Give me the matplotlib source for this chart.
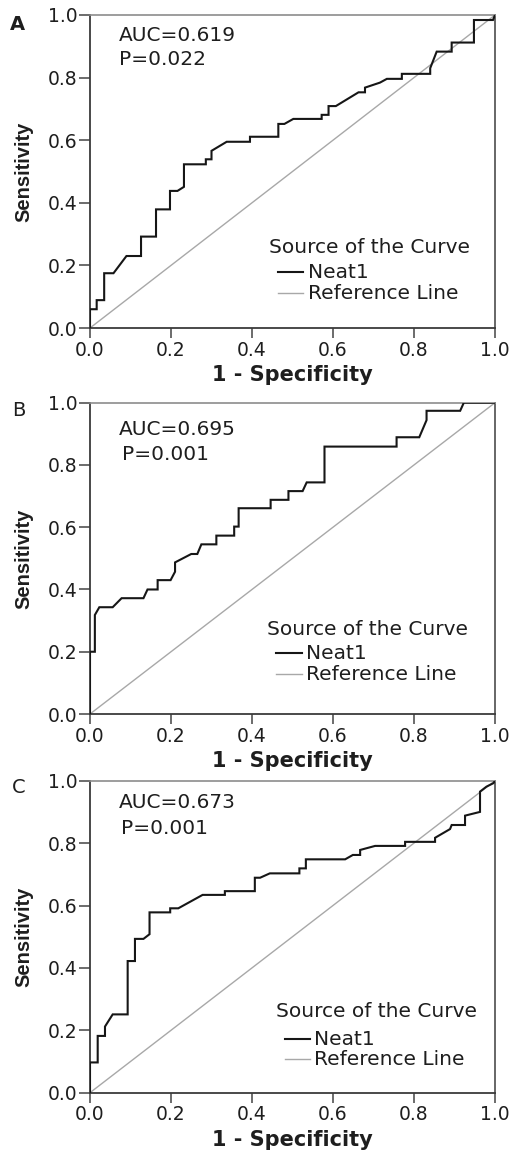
import matplotlib
matplotlib.use("Agg")
import matplotlib.pyplot as plt

# ---------------- data ----------------
panel_letters = ["A", "B", "C"]
auc_texts = ["AUC=0.619", "AUC=0.695", "AUC=0.673"]
p_texts = ["P=0.022", "P=0.001", "P=0.001"]
series_label = "Neat1"
ref_label = "Reference Line"
legend_title = "Source of the Curve"
xlabel = "1 - Specificity"
ylabel = "Sensitivity"
tick_values = [0.0, 0.2, 0.4, 0.6, 0.8, 1.0]
tick_labels = ["0.0", "0.2", "0.4", "0.6", "0.8", "1.0"]

# ROC curve vertices (1 - specificity, sensitivity)
fpr_a = [0, 0, 0.0165, 0.0165, 0.035, 0.035, 0.058, 0.09, 0.126, 0.126, 0.163, 0.163,
         0.1975, 0.1975, 0.216, 0.232, 0.232, 0.286, 0.286, 0.30, 0.30, 0.3375, 0.395,
         0.395, 0.465, 0.465, 0.48, 0.502, 0.572, 0.572, 0.589, 0.589, 0.607, 0.663,
         0.679, 0.679, 0.716, 0.733, 0.77, 0.77, 0.84, 0.84, 0.856, 0.893, 0.893, 0.948,
         0.948, 0.995, 1.0]
tpr_a = [0, 0.06, 0.06, 0.089, 0.089, 0.175, 0.175, 0.23, 0.23, 0.292, 0.292, 0.379,
         0.379, 0.438, 0.438, 0.451, 0.523, 0.523, 0.539, 0.539, 0.566, 0.595, 0.595,
         0.611, 0.611, 0.652, 0.652, 0.668, 0.668, 0.681, 0.681, 0.709, 0.709, 0.753,
         0.753, 0.768, 0.784, 0.796, 0.796, 0.812, 0.812, 0.83, 0.883, 0.883, 0.912,
         0.912, 0.984, 0.984, 1.0]

fpr_b = [0, 0, 0.012, 0.012, 0.023, 0.056, 0.078, 0.132, 0.142, 0.167, 0.167, 0.199,
         0.21, 0.21, 0.25, 0.265, 0.275, 0.312, 0.312, 0.356, 0.356, 0.367, 0.367,
         0.446, 0.446, 0.49, 0.49, 0.525, 0.535, 0.579, 0.579, 0.757, 0.757, 0.813,
         0.831, 0.831, 0.914, 0.923, 1.0]
tpr_b = [0, 0.2, 0.2, 0.318, 0.343, 0.343, 0.372, 0.372, 0.4, 0.4, 0.43, 0.43,
         0.457, 0.487, 0.514, 0.514, 0.545, 0.545, 0.573, 0.573, 0.602, 0.602, 0.661,
         0.661, 0.688, 0.688, 0.716, 0.716, 0.744, 0.744, 0.859, 0.859, 0.889, 0.889,
         0.944, 0.974, 0.974, 1.0, 1.0]

fpr_c = [0, 0, 0.019, 0.019, 0.037, 0.037, 0.056, 0.093, 0.093, 0.111, 0.111, 0.132,
         0.147, 0.147, 0.198, 0.198, 0.218, 0.278, 0.333, 0.333, 0.407, 0.407, 0.42,
         0.444, 0.517, 0.517, 0.533, 0.533, 0.63, 0.649, 0.667, 0.667, 0.704, 0.778,
         0.778, 0.852, 0.852, 0.889, 0.893, 0.926, 0.926, 0.963, 0.963, 0.979, 0.996, 1.0]
tpr_c = [0, 0.097, 0.097, 0.182, 0.182, 0.212, 0.251, 0.251, 0.422, 0.422, 0.493, 0.493,
         0.508, 0.578, 0.578, 0.591, 0.591, 0.634, 0.634, 0.646, 0.646, 0.689, 0.689,
         0.703, 0.703, 0.719, 0.719, 0.748, 0.748, 0.762, 0.762, 0.778, 0.791, 0.791,
         0.804, 0.804, 0.817, 0.845, 0.858, 0.858, 0.888, 0.9, 0.965, 0.981, 0.992, 1.0]

ref_x = [0.0, 1.0]
ref_y = [0.0, 1.0]

curves = [(fpr_a, tpr_a), (fpr_b, tpr_b), (fpr_c, tpr_c)]

# ---------------- layout ----------------
W, H = 512, 1156
axes_px = [(90, 15, 495, 328), (90, 402.7, 495, 714), (90, 780.7, 495, 1092.7)]
letter_px = [(10, 30), (12, 416), (12, 793)]
auc_pos = [((0.072, 0.917), (0.072, 0.840)),
           ((0.072, 0.896), (0.078, 0.816)),
           ((0.072, 0.912), (0.076, 0.829))]
# (title_x, title_y, handle_x0, handle_x1, text_x, base1, base2)
leg_pos = [(0.442, 0.240, 0.464, 0.526, 0.538, 0.159, 0.093),
           (0.436, 0.254, 0.459, 0.523, 0.533, 0.176, 0.109),
           (0.459, 0.244, 0.481, 0.543, 0.553, 0.153, 0.089)]

CURVE = "#161616"
REF = "#a8a8a8"
TXT = "#1e1e1e"

fig = plt.figure(figsize=(W / 100, H / 100), dpi=100)

for i in range(3):
    x0, y0, x1, y1 = axes_px[i]
    ax = fig.add_axes([x0 / W, 1 - y1 / H, (x1 - x0) / W, (y1 - y0) / H])
    fx, ty = curves[i]
    ax.plot(ref_x, ref_y, color=REF, lw=1.0, solid_capstyle="butt", zorder=2)
    ax.plot(fx, ty, color=CURVE, lw=1.5, solid_joinstyle="miter", zorder=3)
    ax.set_xlim(0, 1)
    ax.set_ylim(0, 1)
    ax.set_xticks(tick_values)
    ax.set_yticks(tick_values)
    ax.set_xticklabels(tick_labels, fontsize=13.5, family="DejaVu Sans", color=TXT)
    ax.set_yticklabels(tick_labels, fontsize=13.5, family="DejaVu Sans", color=TXT)
    ax.tick_params(axis="x", direction="out", length=7, width=1.1, color="#444444", pad=2)
    ax.tick_params(axis="y", direction="out", length=8, width=1.1, color="#444444", pad=1)
    for s in ["left", "bottom"]:
        ax.spines[s].set_color("#3a3a3a")
        ax.spines[s].set_linewidth(1.3)
    ax.spines["right"].set_color("#5a5a5a")
    ax.spines["right"].set_linewidth(1.3)
    ax.spines["top"].set_color("#8c8c8c")
    ax.spines["top"].set_linewidth(1.2)
    ax.set_xlabel(xlabel, fontsize=15, fontweight="bold", family="DejaVu Sans",
                  color=TXT, labelpad=4)
    ax.set_ylabel(ylabel, fontsize=14.5, fontweight="bold", family="Liberation Sans",
                  color=TXT, labelpad=10)

    (ax1, ay1), (ax2, ay2) = auc_pos[i]
    ax.text(ax1, ay1, auc_texts[i], transform=ax.transAxes, fontsize=14.5,
            family="DejaVu Sans", color=TXT, va="baseline", ha="left")
    ax.text(ax2, ay2, p_texts[i], transform=ax.transAxes, fontsize=14.5,
            family="DejaVu Sans", color=TXT, va="baseline", ha="left")

    tx, tyy, hx0, hx1, lx, b1, b2 = leg_pos[i]
    ax.text(tx, tyy, legend_title, transform=ax.transAxes, fontsize=14.5,
            family="DejaVu Sans", color=TXT, va="baseline", ha="left")
    ax.plot([hx0, hx1], [b1 + 0.02, b1 + 0.02], transform=ax.transAxes,
            color=CURVE, lw=1.5, clip_on=False)
    ax.plot([hx0, hx1], [b2 + 0.02, b2 + 0.02], transform=ax.transAxes,
            color=REF, lw=1.0, clip_on=False)
    ax.text(lx, b1, series_label, transform=ax.transAxes, fontsize=14.5,
            family="DejaVu Sans", color=TXT, va="baseline", ha="left")
    ax.text(lx, b2, ref_label, transform=ax.transAxes, fontsize=14.5,
            family="DejaVu Sans", color=TXT, va="baseline", ha="left")

    lxp, lyp = letter_px[i]
    fig.text(lxp / W, 1 - lyp / H, panel_letters[i], fontsize=14,
             family="DejaVu Sans", color=TXT, va="baseline", ha="left",
             fontweight="bold" if i == 0 else "normal")

fig.savefig("out.png", dpi=100, facecolor="white")
